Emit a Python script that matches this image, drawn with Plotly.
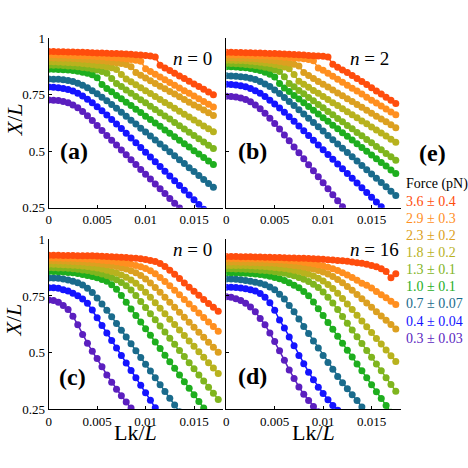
import plotly.graph_objects as go

# X/L vs Lk/L for several forces, four panels (a)-(d), legend block (e)

lk = [0.0, 0.0005, 0.001, 0.0015, 0.002, 0.0025, 0.003, 0.0035, 0.004, 0.0045,
      0.005, 0.0055, 0.006, 0.0065, 0.007, 0.0075, 0.008, 0.0085, 0.009, 0.0095,
      0.01, 0.0105, 0.011, 0.0115, 0.012, 0.0125, 0.013, 0.0135, 0.014, 0.0145,
      0.015, 0.0155, 0.016, 0.0165, 0.017, 0.0175]

force_labels = ["3.6 ± 0.4", "2.9 ± 0.3", "2.3 ± 0.2", "1.8 ± 0.2", "1.3 ± 0.1",
                "1.0 ± 0.1", "0.7 ± 0.07", "0.4 ± 0.04", "0.3 ± 0.03"]
force_colors = ["#FF4D0D", "#FF8F1F", "#DCA020", "#B8B21E", "#7FB51E",
                "#1EAE1E", "#1A6B8C", "#1414FF", "#5B1FBF"]

x_ticks = [0, 0.005, 0.01, 0.015]
x_ticktext = ["0", "0.005", "0.01", "0.015"]
y_ticks = [0.25, 0.5, 0.75, 1]
y_ticktext = ["0.25", "0.5", "0.75", "1"]

panel_tags = ["(a)", "(b)", "(c)", "(d)"]
panel_n = ["0", "2", "0", "16"]

# panel (a), n = 0
a_36 = [.941, .941, .940, .940, .939, .939, .938, .938, .937, .936, .935, .935, .934, .933, .932, .931, .930, .929,
        .927, .926, .924, .921, .917, .880, .868, .857, .845, .833, .822, .810, .798, .786, .774, .762, .750]
a_29 = [.927, .927, .926, .926, .925, .924, .923, .922, .921, .920, .919, .918, .916, .915, .913, .911, .909, .906,
        .903, .898, .865, .853, .841, .829, .816, .804, .792, .780, .768, .756, .744, .732, .720, .708, .696]
a_23 = [.913, .913, .912, .911, .911, .910, .909, .907, .906, .904, .902, .900, .898, .895, .892, .888, .884, .874,
        .848, .836, .824, .812, .800, .788, .776, .764, .753, .741, .729, .717, .705, .694, .682, .670, .658]
a_18 = [.896, .896, .895, .894, .893, .892, .890, .888, .886, .884, .881, .878, .874, .869, .862, .840, .820, .807,
        .794, .781, .768, .755, .742, .729, .716, .703, .690, .677, .664, .651, .638, .625, .612, .599, .586]
a_13 = [.881, .881, .880, .879, .877, .876, .874, .871, .868, .864, .859, .853, .845, .822, .800, .786, .771, .757,
        .742, .728, .714, .699, .685, .670, .656, .642, .627, .613, .598, .584, .570, .555, .541, .526, .512]
a_10 = [.863, .863, .862, .861, .859, .857, .854, .850, .845, .838, .825, .795, .778, .763, .747, .732, .717, .702,
        .686, .671, .655, .640, .625, .610, .594, .579, .564, .548, .533, .518, .502, .487, .472, .456, .441]
a_07 = [.820, .819, .818, .816, .813, .808, .801, .792, .781, .768, .754, .739, .723, .707, .690, .672, .655, .637,
        .620, .602, .585, .567, .550, .532, .515, .497, .480, .462, .445, .427, .410, .392, .375, .357, .340]
a_04 = [.784, .783, .781, .778, .773, .766, .756, .744, .730, .714, .697, .679, .660, .640, .620, .600, .579, .558,
        .537, .516, .495, .474, .453, .432, .411, .390, .369, .348, .327, .306, .285, .264, .243]
a_03 = [.727, .726, .724, .720, .714, .705, .692, .676, .657, .636, .614, .592, .570, .548, .527, .505, .484, .462,
        .441, .419, .398, .377, .355, .334, .313, .291, .270, .248]

# panel (b), n = 2
b_36 = [.938, .938, .937, .937, .936, .936, .935, .935, .934, .933, .932, .931, .930, .929, .928, .927, .926, .924,
        .923, .921, .920, .917, .885, .872, .860, .848, .835, .822, .808, .795, .781, .767, .753, .739, .725, .711]
b_29 = [.927, .927, .926, .926, .925, .924, .923, .922, .921, .920, .919, .918, .916, .915, .913, .911, .909, .906,
        .900, .868, .858, .845, .832, .819, .805, .792, .779, .766, .753, .739, .726, .713, .700, .687, .674, .661]
b_23 = [.914, .914, .913, .912, .911, .910, .909, .907, .905, .903, .900, .897, .894, .890, .885, .877, .848, .835,
        .822, .809, .796, .784, .771, .758, .745, .732, .720, .707, .694, .681, .668, .655, .643, .630, .617, .604]
b_18 = [.903, .903, .902, .901, .900, .898, .896, .894, .891, .888, .884, .879, .873, .865, .840, .810, .796, .783,
        .769, .756, .742, .729, .715, .702, .688, .675, .661, .648, .634, .621, .607, .594, .580, .567, .553, .540]
b_13 = [.888, .888, .887, .886, .884, .882, .879, .876, .872, .867, .861, .853, .830, .800, .785, .769, .754, .738,
        .723, .707, .692, .676, .661, .645, .630, .614, .599, .583, .568, .552, .537, .521, .506, .490, .475, .460]
b_10 = [.874, .874, .873, .871, .869, .866, .862, .857, .850, .841, .828, .800, .780, .764, .747, .731, .714, .698,
        .681, .665, .648, .632, .615, .599, .582, .566, .549, .533, .516, .500, .483, .467, .450, .434, .417, .401]
b_07 = [.834, .833, .832, .830, .827, .823, .817, .809, .798, .786, .771, .755, .738, .720, .702, .684, .665, .646,
        .627, .608, .589, .570, .551, .532, .513, .494, .475, .456, .437, .418, .399, .380, .361, .342, .323, .304]
b_04 = [.796, .795, .793, .790, .785, .778, .768, .756, .742, .726, .709, .691, .672, .652, .632, .611, .590, .569,
        .548, .527, .506, .485, .464, .443, .422, .401, .380, .359, .338, .317, .296, .275, .254, .233]
b_03 = [.743, .742, .740, .736, .729, .719, .705, .688, .668, .646, .623, .598, .572, .546, .519, .493, .466, .440,
        .413, .387, .360, .334, .307, .281, .254, .228]

# panel (c), n = 0
c_36 = [.930, .930, .930, .929, .929, .929, .928, .928, .927, .927, .926, .925, .924, .923, .922, .921, .920, .918,
        .916, .914, .911, .907, .902, .893, .880, .864, .846, .827, .807, .789, .771, .753, .735, .717, .700, .683]
c_29 = [.918, .918, .918, .917, .917, .916, .915, .914, .913, .912, .910, .908, .906, .904, .901, .898, .894, .890,
        .885, .879, .871, .861, .848, .832, .814, .795, .775, .755, .735, .715, .695, .675, .655, .635, .615, .595]
c_23 = [.905, .905, .904, .904, .903, .902, .901, .900, .898, .896, .894, .891, .888, .884, .880, .875, .869, .861,
        .852, .840, .825, .807, .787, .766, .744, .722, .700, .678, .656, .634, .612, .590, .568, .546, .524, .502]
c_18 = [.890, .890, .889, .888, .887, .886, .884, .882, .880, .877, .873, .869, .864, .858, .851, .843, .833, .821,
        .806, .788, .767, .744, .720, .696, .672, .648, .624, .600, .576, .552, .528, .504, .480, .456, .432, .408]
c_13 = [.875, .875, .874, .873, .872, .870, .868, .865, .862, .858, .853, .847, .840, .832, .822, .810, .795, .776,
        .752, .726, .699, .672, .645, .618, .591, .564, .537, .510, .483, .456, .429, .402, .375, .348, .321, .294]
c_10 = [.858, .858, .857, .856, .854, .852, .849, .845, .840, .836, .830, .823, .815, .800, .780, .752, .722, .693,
        .664, .635, .606, .577, .547, .518, .489, .460, .431, .402, .372, .343, .314, .285, .256, .227]
c_07 = [.829, .829, .828, .825, .821, .815, .808, .798, .784, .765, .741, .715, .687, .658, .629, .599, .569, .539,
        .509, .479, .449, .419, .389, .359, .329, .299, .269, .239]
c_04 = [.786, .786, .784, .778, .772, .762, .751, .737, .718, .688, .654, .620, .587, .554, .521, .488, .455, .422,
        .389, .356, .323, .290, .257, .224]
c_03 = [.732, .730, .722, .708, .690, .661, .623, .580, .542, .506, .474, .438, .402, .370, .339, .310, .282, .256,
        .225]

# panel (d), n = 16
d_36 = [.924, .924, .924, .923, .923, .923, .922, .922, .921, .921, .920, .920, .919, .918, .918, .917, .916, .915,
        .914, .913, .912, .910, .909, .907, .905, .903, .900, .897, .894, .890, .885, .879, .870, .858, .830, .848]
d_29 = [.915, .915, .915, .914, .914, .914, .913, .913, .912, .911, .910, .909, .908, .906, .904, .902, .899, .896,
        .892, .888, .883, .877, .870, .862, .853, .843, .832, .820, .806, .797, .785, .770, .756, .742, .727, .712]
d_23 = [.900, .900, .900, .899, .899, .898, .898, .897, .896, .895, .894, .892, .890, .888, .885, .882, .878, .874,
        .869, .863, .856, .847, .836, .823, .808, .792, .775, .757, .738, .719, .700, .681, .662, .643, .624, .605]
d_18 = [.885, .885, .885, .884, .884, .883, .882, .881, .880, .878, .876, .874, .871, .868, .864, .859, .853, .846,
        .838, .828, .816, .801, .783, .762, .739, .715, .690, .665, .640, .614, .589, .563, .538, .512, .487, .461]
d_13 = [.870, .870, .869, .869, .868, .867, .866, .864, .862, .860, .857, .854, .850, .845, .839, .832, .824, .814,
        .802, .787, .768, .745, .719, .690, .660, .630, .600, .570, .540, .510, .480, .450, .420, .390, .360, .330]
d_10 = [.853, .853, .852, .851, .850, .849, .847, .845, .841, .837, .832, .826, .818, .808, .797, .786, .770, .751,
        .723, .694, .664, .633, .603, .572, .542, .511, .481, .450, .420, .389, .359, .328, .298, .267, .237]
d_07 = [.825, .825, .824, .822, .818, .815, .811, .806, .800, .790, .778, .758, .737, .708, .680, .649, .616, .585,
        .552, .521, .488, .457, .427, .395, .367, .341, .314, .289, .260, .235]
d_04 = [.789, .789, .788, .785, .782, .778, .772, .761, .744, .720, .687, .644, .609, .569, .531, .488, .451, .414,
        .381, .348, .320, .293, .267, .246]
d_03 = [.747, .744, .738, .730, .718, .701, .680, .651, .623, .587, .549, .509, .467, .424, .386, .349, .317, .289,
        .263, .239]

panels = [
    [a_36, a_29, a_23, a_18, a_13, a_10, a_07, a_04, a_03],
    [b_36, b_29, b_23, b_18, b_13, b_10, b_07, b_04, b_03],
    [c_36, c_29, c_23, c_18, c_13, c_10, c_07, c_04, c_03],
    [d_36, d_29, d_23, d_18, d_13, d_10, d_07, d_04, d_03],
]

W = H = 468
FONT = "Liberation Serif, Times New Roman, serif"

# panel boxes in pixels: left, right, top, bottom
boxes = [(46, 221.5, 32.3, 207.3), (224.7, 400.2, 32.3, 207.3),
         (46, 221.5, 240, 415.7), (224.7, 400.2, 240, 415.7)]

fig = go.Figure()

for p, series in enumerate(panels):
    sfx = "" if p == 0 else str(p + 1)
    # lowest force first so the red curve sits on top
    for k in reversed(range(len(series))):
        y = series[k]
        fig.add_trace(go.Scatter(
            x=lk[:len(y)], y=y, xaxis="x" + sfx, yaxis="y" + sfx,
            mode="lines+markers",
            line=dict(color=force_colors[k], width=1.5),
            marker=dict(color=force_colors[k], size=7),
            showlegend=False, hoverinfo="skip",
        ))

axis_common = dict(showline=True, linecolor="black", linewidth=1, ticks="inside",
                   ticklen=3, tickcolor="black", showgrid=False, zeroline=False,
                   tickfont=dict(family=FONT, size=13, color="black"))

layout = {}
for p, (l, r, t, b) in enumerate(boxes):
    sfx = "" if p == 0 else str(p + 1)
    layout["xaxis" + sfx] = dict(axis_common, domain=[l / W, r / W], range=[0, 0.018],
                                 anchor="y" + sfx, tickvals=x_ticks, ticktext=x_ticktext)
    layout["yaxis" + sfx] = dict(axis_common, domain=[1 - b / H, 1 - t / H], range=[0.25, 1.0],
                                 anchor="x" + sfx, tickvals=y_ticks, ticktext=y_ticktext,
                                 showticklabels=(p % 2 == 0))

fig.update_layout(**layout)


def px_note(text, x, y, size, xanchor="center", angle=0):
    fig.add_annotation(text=text, x=x / W, y=1 - y / H, xref="paper", yref="paper",
                       showarrow=False, xanchor=xanchor, yanchor="middle", textangle=angle,
                       font=dict(family=FONT, size=size, color="black"))


# axis titles
px_note("<i>X</i>/<i>L</i>", 11, 116, 22, angle=-90)
px_note("<i>X</i>/<i>L</i>", 11, 323, 22, angle=-90)
px_note("Lk/<i>L</i>", 133.5, 440, 22)
px_note("Lk/<i>L</i>", 313, 440, 22)

# panel tags and n labels
tag_pos = [(71, 149), (251, 149), (70, 382), (251, 381)]
n_pos = [(191, 53), (369, 53), (191, 251), (374, 251)]
for p in range(4):
    px_note("<b>" + panel_tags[p] + "</b>", tag_pos[p][0], tag_pos[p][1], 24)
    px_note("<i>n</i> = " + panel_n[p], n_pos[p][0], n_pos[p][1], 19)

# legend block (e)
px_note("<b>(e)</b>", 432.5, 151, 24)
px_note("Force (pN)", 404, 183, 14, xanchor="left")
leg_y = [201, 218.5, 236.5, 254, 271.7, 289, 306.7, 325, 342]
for k, lab in enumerate(force_labels):
    fig.add_annotation(text=lab, x=403.5 / W, y=1 - leg_y[k] / H, xref="paper", yref="paper",
                       showarrow=False, xanchor="left", yanchor="middle",
                       font=dict(family=FONT, size=14, color=force_colors[k]))

fig.update_layout(width=W, height=H, autosize=False,
                  margin=dict(l=0, r=0, t=0, b=0),
                  paper_bgcolor="white", plot_bgcolor="white")

# the page body has a default 8px margin; drop it so the figure fills the window
fig.write_html("out.html", config={"displayModeBar": False},
               post_script="document.body.style.margin = '0';")
